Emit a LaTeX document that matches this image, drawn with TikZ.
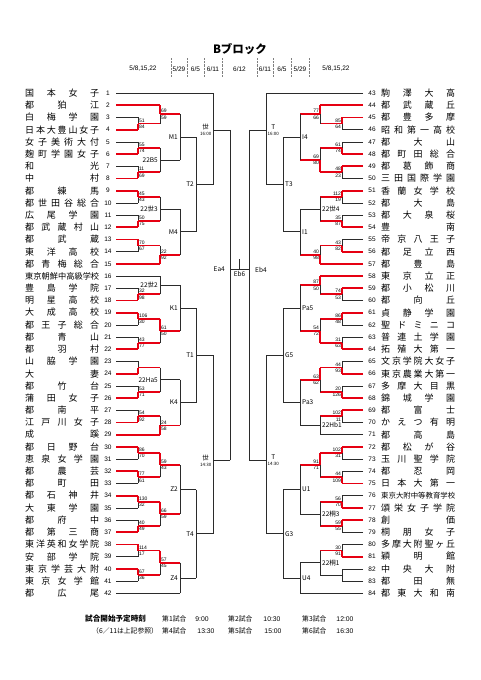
\documentclass[tikz,border=0pt]{standalone}
\usepackage{fontspec}
\usepackage{graphicx}
\setmainfont{Liberation Sans}
\newfontfamily\jp{Noto Sans CJK JP}
\usetikzlibrary{calc,positioning}
\definecolor{WinRed}{HTML}{E60012}
\definecolor{LineDark}{HTML}{2B2B2B}

% spread a school name over the name column
\def\spreadit#1{#1\spreadnext}
\def\spreadnext#1{\ifx#1\relax\else\hfill#1\expandafter\spreadnext\fi}
\newcommand\tname[1]{\setbox0=\hbox{#1}%
  \ifdim\wd0>74pt \resizebox{74pt}{!}{#1}\else\makebox[74pt][s]{\expandafter\spreadit#1\relax}\fi}

% one game: [fraction]{name}{upper}{lower}{column}{upper in}{upper up}{lower in}{lower up}
\newcommand\bout[9][0.5]{%
  \coordinate (#2) at ($(#3 -| #5)!#1!(#4 -| #5)$);
  \draw[#6] (#3) -- (#3 -| #5);
  \draw[#7] (#3 -| #5) -- (#2);
  \draw[#8] (#4) -- (#4 -| #5);
  \draw[#9] (#4 -| #5) -- (#2);
}
\newcommand\scL[3]{%
  \node[scr,anchor=south west] (#1-a) at ([xshift=0.5pt,yshift=0.9pt]#1) {#2};
  \node[scr,anchor=north west] (#1-b) at ([xshift=0.5pt,yshift=-0.9pt]#1) {#3};}
\newcommand\scR[3]{%
  \node[scr,anchor=south east] (#1-a) at ([xshift=-0.5pt,yshift=0.9pt]#1) {#2};
  \node[scr,anchor=north east] (#1-b) at ([xshift=-0.5pt,yshift=-0.9pt]#1) {#3};}
\newcommand\lbL[2]{\node[lbl,anchor=east] (#1-l) at ([xshift=-2pt]#1) {#2};}
\newcommand\lbR[2]{\node[lbl,anchor=west] (#1-l) at ([xshift=2pt]#1) {#2};}

\begin{document}
\begin{tikzpicture}[x=1pt,y=-1pt]
\tikzstyle{tm}=[inner sep=0pt,anchor=west,font=\jp\fontsize{9}{10}\selectfont]
\tikzstyle{num}=[inner sep=0pt,font=\fontsize{6.5}{7}\selectfont]
\tikzstyle{scr}=[inner sep=0.3pt,font=\fontsize{5}{5}\selectfont]
\tikzstyle{lbl}=[inner sep=0pt,align=center,font=\jp\fontsize{6.5}{7}\selectfont]
\tikzstyle{dt}=[inner sep=0pt,font=\fontsize{6.5}{7}\selectfont]
\tikzstyle{ft}=[inner sep=0pt,font=\jp\fontsize{6.8}{7}\selectfont]
\tikzstyle{rd}=[draw=WinRed,line width=1.8pt,line cap=square]
\tikzstyle{bk}=[draw=LineDark,line width=0.6pt]
\useasboundingbox (0,0) rectangle (481,680);

% header
\node[font=\jp\bfseries\fontsize{11.5}{12}\selectfont] (title) at (240,49) {Bブロック};
\node[dt] (d1) at (143,69) {5/8,15,22};
\node[dt] (d2) at (179,69) {5/29};
\node[dt] (d3) at (195.5,69) {6/5};
\node[dt] (d4) at (213,69) {6/11};
\node[dt] (d5) at (239.5,69) {6/12};
\node[dt] (d6) at (265,69) {6/11};
\node[dt] (d7) at (282,69) {6/5};
\node[dt] (d8) at (300,69) {5/29};
\node[dt] (d9) at (336,69) {5/8,15,22};
\foreach \x in {171,187,204,222,257,273,291,309}
  \draw[gray,densely dotted] (\x,58) -- (\x,77);

% teams
\foreach \i/\n in {1/国本女子, 2/都狛江, 3/白梅学園, 4/日本大豊山女子, 5/女子美術大付,
  6/麹町学園女子, 7/和光, 8/中村, 9/都練馬, 10/都世田谷総合, 11/広尾学園, 12/都武蔵村山,
  13/都武蔵, 14/東洋高校, 15/都青梅総合, 16/東京朝鮮中高級学校, 17/豊島学院, 18/明星高校,
  19/大成高校, 20/都王子総合, 21/都青山, 22/都羽村, 23/山脇学園, 24/大妻, 25/都竹台,
  26/蒲田女子, 27/都南平, 28/江戸川女子, 29/成蹊, 30/都日野台, 31/恵泉女学園, 32/都農芸,
  33/都町田, 34/都石神井, 35/大東学園, 36/都府中, 37/都第三商, 38/東洋英和女学院,
  39/安部学院, 40/東京学芸大附, 41/東京女学館, 42/都広尾}{
  \pgfmathsetmacro\yy{93+(\i-1)*12.2}
  \coordinate (L\i) at (116,\yy);
  \node[num] (numL\i) at (108,\yy) {\i};
  \node[tm] (teamL\i) at (25,\yy) {\tname{\n}};
}
\foreach \i/\n in {43/駒澤大高, 44/都武蔵丘, 45/都豊多摩, 46/昭和第一高校, 47/都大山,
  48/都町田総合, 49/都葛飾商, 50/三田国際学園, 51/香蘭女学校, 52/都大島, 53/都大泉桜,
  54/豊南, 55/帝京八王子, 56/都足立西, 57/都豊島, 58/東京立正, 59/都小松川, 60/都向丘,
  61/貞静学園, 62/聖ドミニコ, 63/普連土学園, 64/拓殖大第一, 65/文京学院大女子,
  66/東京農業大第一, 67/多摩大目黒, 68/錦城学園, 69/都富士, 70/かえつ有明, 71/都高島,
  72/都松が谷, 73/玉川聖学院, 74/都忍岡, 75/日本大第一, 76/東京大附中等教育学校,
  77/頌栄女子学院, 78/創価, 79/桐朋女子, 80/多摩大附聖ヶ丘, 81/穎明館, 82/中央大附,
  83/都田無, 84/都東大和南}{
  \pgfmathsetmacro\yy{93+(\i-43)*12.2}
  \coordinate (R\i) at (363,\yy);
  \node[num] (numR\i) at (372,\yy) {\i};
  \node[tm] (teamR\i) at (381,\yy) {\tname{\n}};
}

% columns
\coordinate (a1) at (138,0); \coordinate (a2) at (160,0); \coordinate (a3) at (180,0);
\coordinate (a4) at (196,0); \coordinate (a5) at (213,0); \coordinate (a6) at (230,0);
\coordinate (b1) at (342,0); \coordinate (b2) at (320,0); \coordinate (b3) at (300,0);
\coordinate (b4) at (283,0); \coordinate (b5) at (266,0); \coordinate (b6) at (249,0);

% left: M1
\bout{m34}{L3}{L4}{a1}{bk}{bk}{rd}{rd} \scL{m34}{51}{84}
\bout{m24}{L2}{m34}{a2}{rd}{rd}{rd}{bk} \scL{m24}{69}{59}
\bout{m56}{L5}{L6}{a1}{bk}{bk}{rd}{rd} \scL{m56}{55}{74}
\bout{m78}{L7}{L8}{a1}{bk}{bk}{rd}{rd} \scL{m78}{11}{69}
\bout{m58}{m56}{m78}{a2}{rd}{bk}{rd}{bk} \lbL{m58}{22B5}
\bout{mM1}{m24}{m58}{a3}{rd}{bk}{bk}{bk} \lbL{mM1}{M1}
% left: M4
\bout{m910}{L9}{L10}{a1}{rd}{rd}{bk}{bk} \scL{m910}{45}{43}
\bout{m1112}{L11}{L12}{a1}{bk}{bk}{rd}{rd} \scL{m1112}{50}{75}
\bout{m912}{m910}{m1112}{a2}{rd}{bk}{rd}{bk} \lbL{m912}{22世3}
\bout{m1314}{L13}{L14}{a1}{rd}{rd}{bk}{bk} \scL{m1314}{70}{67}
\bout{m1315}{m1314}{L15}{a2}{rd}{bk}{rd}{rd} \scL{m1315}{22}{92}
\bout{mM4}{m912}{m1315}{a3}{bk}{bk}{rd}{bk} \lbL{mM4}{M4}
\bout{mT2}{mM1}{mM4}{a4}{bk}{bk}{bk}{bk} \lbL{mT2}{T2}
\bout[0.404]{mS1}{L1}{mT2}{a5}{bk}{bk}{bk}{bk}
\node[lbl,anchor=east] (mS1-l) at ([xshift=-1.5pt]mS1) {世\\[-1pt]{\fontsize{4.5}{5}\selectfont 16:00}};
% left: K1
\bout{m1718}{L17}{L18}{a1}{bk}{bk}{rd}{rd} \scL{m1718}{32}{98}
\bout{m1618}{L16}{m1718}{a2}{bk}{bk}{rd}{bk} \lbL{m1618}{22世2}
\bout{m1920}{L19}{L20}{a1}{rd}{rd}{bk}{bk} \scL{m1920}{106}{30}
\bout{m2122}{L21}{L22}{a1}{bk}{bk}{rd}{rd} \scL{m2122}{43}{77}
\bout{m1922}{m1920}{m2122}{a2}{rd}{rd}{rd}{bk} \scL{m1922}{61}{50}
\bout{mK1}{m1618}{m1922}{a3}{bk}{bk}{rd}{bk} \lbL{mK1}{K1}
% left: K4
\bout{m2324}{L23}{L24}{a1}{bk}{bk}{rd}{rd}
\bout{m2526}{L25}{L26}{a1}{bk}{bk}{rd}{rd} \scL{m2526}{53}{71}
\bout{m2326}{m2324}{m2526}{a2}{rd}{bk}{rd}{bk} \lbL{m2326}{22Ha5}
\bout{m2728}{L27}{L28}{a1}{bk}{bk}{rd}{rd} \scL{m2728}{54}{92}
\bout{m2729}{m2728}{L29}{a2}{rd}{bk}{rd}{rd} \scL{m2729}{24}{58}
\bout{mK4}{m2326}{m2729}{a3}{bk}{bk}{rd}{bk} \lbL{mK4}{K4}
\bout{mT1}{mK1}{mK4}{a4}{bk}{bk}{bk}{bk} \lbL{mT1}{T1}
% left: Z2
\bout{m3031}{L30}{L31}{a1}{rd}{rd}{bk}{bk} \scL{m3031}{86}{70}
\bout{m3233}{L32}{L33}{a1}{rd}{rd}{bk}{bk} \scL{m3233}{77}{61}
\bout{m3033}{m3031}{m3233}{a2}{rd}{rd}{rd}{bk} \scL{m3033}{59}{43}
\bout{m3435}{L34}{L35}{a1}{rd}{rd}{bk}{bk} \scL{m3435}{130}{32}
\bout{m3637}{L36}{L37}{a1}{bk}{bk}{rd}{rd} \scL{m3637}{40}{49}
\bout{m3437}{m3435}{m3637}{a2}{rd}{rd}{rd}{bk} \scL{m3437}{66}{59}
\bout{mZ2}{m3033}{m3437}{a3}{rd}{bk}{rd}{bk} \lbL{mZ2}{Z2}
% left: Z4
\bout{m3839}{L38}{L39}{a1}{rd}{rd}{bk}{bk} \scL{m3839}{114}{17}
\bout{m4041}{L40}{L41}{a1}{rd}{rd}{bk}{bk} \scL{m4041}{67}{36}
\bout{m3841}{m3839}{m4041}{a2}{rd}{rd}{rd}{bk} \scL{m3841}{57}{45}
\bout{mZ4}{m3841}{L42}{a3}{rd}{bk}{bk}{bk} \lbL{mZ4}{Z4}
\bout{mT4}{mZ2}{mZ4}{a4}{bk}{bk}{bk}{bk} \lbL{mT4}{T4}
\bout[0.589]{mS2}{mT1}{mT4}{a5}{bk}{bk}{bk}{bk}
\node[lbl,anchor=east] (mS2-l) at ([xshift=-1.5pt]mS2) {世\\[-1pt]{\fontsize{4.5}{5}\selectfont 14:30}};
\bout[0.4225]{mEa}{mS1}{mS2}{a6}{bk}{bk}{bk}{bk}

% right: I4
\bout{n4546}{R45}{R46}{b1}{rd}{rd}{bk}{bk} \scR{n4546}{85}{64}
\bout{n4446}{R44}{n4546}{b2}{rd}{rd}{rd}{bk} \scR{n4446}{77}{66}
\bout{n4748}{R47}{R48}{b1}{bk}{bk}{rd}{rd} \scR{n4748}{61}{74}
\bout{n4950}{R49}{R50}{b1}{rd}{rd}{bk}{bk} \scR{n4950}{48}{23}
\bout{n4750}{n4748}{n4950}{b2}{rd}{bk}{rd}{rd} \scR{n4750}{69}{80}
\bout{nI4}{n4446}{n4750}{b3}{rd}{bk}{rd}{bk} \lbR{nI4}{I4}
% right: I1
\bout{n5152}{R51}{R52}{b1}{rd}{rd}{bk}{bk} \scR{n5152}{112}{19}
\bout{n5354}{R53}{R54}{b1}{bk}{bk}{rd}{rd} \scR{n5354}{35}{87}
\bout{n5154}{n5152}{n5354}{b2}{rd}{bk}{rd}{bk} \lbR{n5154}{22世4}
\bout{n5556}{R55}{R56}{b1}{bk}{bk}{rd}{rd} \scR{n5556}{43}{82}
\bout{n5557}{n5556}{R57}{b2}{rd}{bk}{rd}{rd} \scR{n5557}{40}{98}
\bout{nI1}{n5154}{n5557}{b3}{bk}{bk}{rd}{bk} \lbR{nI1}{I1}
\bout{nT3}{nI4}{nI1}{b4}{bk}{bk}{bk}{bk} \lbR{nT3}{T3}
\bout[0.404]{nT16}{R43}{nT3}{b5}{bk}{bk}{bk}{bk}
\node[lbl,anchor=west] (nT16-l) at ([xshift=1.5pt]nT16) {T\\[-1pt]{\fontsize{4.5}{5}\selectfont 16:00}};
% right: Pa5
\bout{n5960}{R59}{R60}{b1}{rd}{rd}{bk}{bk} \scR{n5960}{74}{53}
\bout{n5860}{R58}{n5960}{b2}{rd}{rd}{rd}{bk} \scR{n5860}{87}{50}
\bout{n6162}{R61}{R62}{b1}{rd}{rd}{bk}{bk} \scR{n6162}{86}{48}
\bout{n6364}{R63}{R64}{b1}{bk}{bk}{rd}{rd} \scR{n6364}{31}{63}
\bout{n6164}{n6162}{n6364}{b2}{rd}{bk}{rd}{rd} \scR{n6164}{54}{72}
\bout{nPa5}{n5860}{n6164}{b3}{rd}{bk}{rd}{bk} \lbR{nPa5}{Pa5}
% right: Pa3
\bout{n6566}{R65}{R66}{b1}{bk}{bk}{rd}{rd} \scR{n6566}{44}{93}
\bout{n6768}{R67}{R68}{b1}{bk}{bk}{rd}{rd} \scR{n6768}{20}{126}
\bout{n6568}{n6566}{n6768}{b2}{rd}{rd}{rd}{bk} \scR{n6568}{63}{62}
\bout{n6970}{R69}{R70}{b1}{rd}{rd}{bk}{bk} \scR{n6970}{102}{11}
\bout{n6971}{n6970}{R71}{b2}{rd}{bk}{bk}{bk} \lbR{n6971}{22Hb1}
\bout{nPa3}{n6568}{n6971}{b3}{rd}{bk}{bk}{bk} \lbR{nPa3}{Pa3}
\bout{nG5}{nPa5}{nPa3}{b4}{bk}{bk}{bk}{bk} \lbR{nG5}{G5}
% right: U1
\bout{n7273}{R72}{R73}{b1}{rd}{rd}{bk}{bk} \scR{n7273}{102}{31}
\bout{n7475}{R74}{R75}{b1}{bk}{bk}{rd}{rd} \scR{n7475}{44}{109}
\bout{n7275}{n7273}{n7475}{b2}{rd}{rd}{rd}{bk} \scR{n7275}{91}{71}
\bout{n7677}{R76}{R77}{b1}{bk}{bk}{rd}{rd} \scR{n7677}{56}{70}
\bout{n7879}{R78}{R79}{b1}{rd}{rd}{bk}{bk} \scR{n7879}{59}{55}
\bout{n7679}{n7677}{n7879}{b2}{rd}{bk}{rd}{bk} \lbR{n7679}{22桐3}
\bout{nU1}{n7275}{n7679}{b3}{rd}{bk}{bk}{bk} \lbR{nU1}{U1}
% right: U4
\bout{n8081}{R80}{R81}{b1}{bk}{bk}{rd}{rd} \scR{n8081}{30}{91}
\bout{n8283}{R82}{R83}{b1}{bk}{bk}{bk}{bk}
\bout{n8083}{n8081}{n8283}{b2}{rd}{bk}{bk}{bk} \lbR{n8083}{22桐1}
\bout{nU4}{n8083}{R84}{b3}{bk}{bk}{bk}{bk} \lbR{nU4}{U4}
\bout{nG3}{nU1}{nU4}{b4}{bk}{bk}{bk}{bk} \lbR{nG3}{G3}
\bout[0.589]{nT14}{nG5}{nG3}{b5}{bk}{bk}{bk}{bk}
\node[lbl,anchor=west] (nT14-l) at ([xshift=1.5pt]nT14) {T\\[-1pt]{\fontsize{4.5}{5}\selectfont 14:30}};
\bout[0.4225]{nEb}{nT16}{nT14}{b6}{bk}{bk}{bk}{bk}

% final
\draw[bk] (mEa) -- (nEb);
\coordinate (fin) at ($(mEa)!0.5!(nEb)$);
\coordinate (finTop) at ($(fin)+(0,-11)$);
\draw[bk] (fin) -- (finTop);
\node[lbl,anchor=east] (mEa-l) at ([xshift=-5pt]mEa) {Ea4};
\node[lbl,anchor=west] (nEb-l) at ([xshift=6pt]nEb) {Eb4};
\node[lbl,anchor=north] (fin-l) at ([yshift=-2pt]fin) {Eb6};

% start times
\node[ft,anchor=west,font=\jp\bfseries\fontsize{7.6}{8}\selectfont] (ftHead) at (85,619) {試合開始予定時刻};
\node[ft,anchor=west] (ftNote) at (92,631) {（6／11は上記参照）};
\foreach \k/\x/\y/\t/\tx in {1/162/619/9:00/202, 2/228/619/10:30/272, 3/302/619/12:00/345,
  4/162/631/13:30/206, 5/228/631/15:00/273, 6/302/631/16:30/345}{
  \node[ft,anchor=west] (gm\k) at (\x,\y) {第\k 試合};
  \node[ft,font=\fontsize{6.8}{7}\selectfont] (tm\k) at (\tx,\y) {\t};
}
\end{tikzpicture}
\end{document}
